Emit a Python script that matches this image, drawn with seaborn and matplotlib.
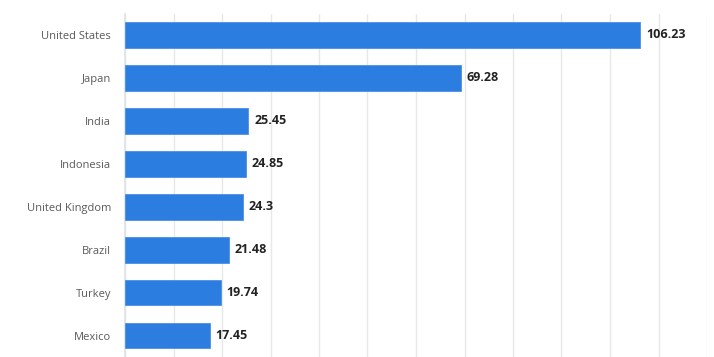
import matplotlib
matplotlib.use("Agg")
import matplotlib.pyplot as plt
import pandas as pd
import seaborn as sb

# Date
tari = ["United States", "Japan", "India", "Indonesia", "United Kingdom",
        "Brazil", "Turkey", "Mexico"]
valori = [106.23, 69.28, 25.45, 24.85, 24.3, 21.48, 19.74, 17.45]
etichete = ["106.23", "69.28", "25.45", "24.85", "24.3", "21.48", "19.74", "17.45"]

df = pd.DataFrame({"tara": tari, "valoare": valori})

sb.set_style("white")
plt.rcParams["font.family"] = ["Open Sans", "DejaVu Sans"]

fig = plt.figure(figsize=(7.14, 3.57), dpi=100)
ax = fig.add_axes([125 / 714, 0.0, (707 - 125) / 714, (357 - 13.5) / 357])

sb.barplot(data=df, x="valoare", y="tara", color="#2b7de0", width=0.6,
           saturation=1, ax=ax, zorder=3, edgecolor="#4a90e6", linewidth=0.6)

ax.set_xlim(0, 120)
ax.set_ylim(7.5, -0.5)
ax.set_xticks(range(0, 121, 10))
ax.set_xticklabels([])
ax.tick_params(axis="x", length=0)
ax.tick_params(axis="y", length=0, pad=10, labelsize=8, labelcolor="#5a5a5a")
ax.grid(axis="x", color="#e8e8e8", linewidth=1, zorder=0)
ax.set_xlabel("")
ax.set_ylabel("")

for s in ["top", "right", "bottom"]:
    ax.spines[s].set_visible(False)
ax.spines["left"].set_color("#dde3ea")
ax.spines["left"].set_linewidth(1.2)

for i, (v, t) in enumerate(zip(valori, etichete)):
    ax.text(v + 1.2, i, t, va="center", ha="left", fontsize=9,
            fontweight="bold", color="#222222")

fig.savefig("out.png", dpi=100)
